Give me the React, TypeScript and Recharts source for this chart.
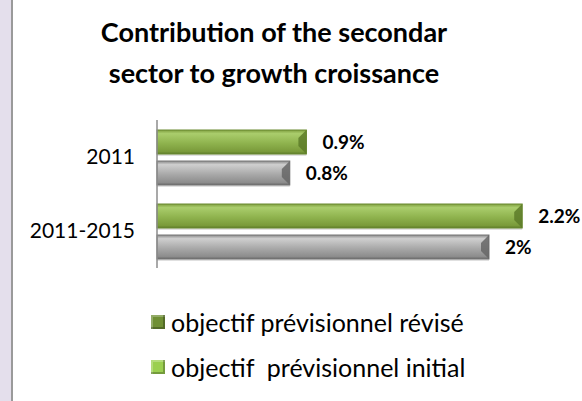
import React from "react";
import { Bar, BarChart, LabelList, XAxis, YAxis } from "recharts";

const categories = ["2011", "2011-2015"];
const revisedValues = [0.9, 2.2];
const initialValues = [0.8, 2.0];
const seriesNames = ["objectif prévisionnel révisé", "objectif  prévisionnel initial"];
const titleLines = ["Contribution of the secondar", "sector to growth croissance"];

const chartData = categories.map((cat, i) => ({
  cat,
  revised: revisedValues[i],
  initial: initialValues[i],
}));

const FONT = "Lato, 'Open Sans', sans-serif";

// bar with a vertical gradient and a darker bevel at the right end
const BevelBar = (props: any) => {
  const { x, y, width, height, gradId, edge, bevel } = props;
  if (!width || width <= 0) return null;
  const b = Math.min(8, height / 3);
  return (
    <g>
      <rect x={x} y={y + 2} width={width} height={height} fill="#000" opacity={0.12} />
      <rect x={x} y={y} width={width} height={height} fill={`url(#${gradId})`} stroke={edge} strokeWidth={1} />
      <polygon
        points={`${x + width - b},${y + b} ${x + width},${y} ${x + width},${y + height} ${x + width - b},${y + height - b}`}
        fill={bevel}
        opacity={0.85}
      />
    </g>
  );
};

const labelFormat = (v: any) => `${v}%`;

export default function App() {
  return (
    <div
      style={{
        position: "absolute",
        left: 0,
        top: 0,
        width: 582,
        height: 401,
        background: "#fff",
        overflow: "hidden",
        fontFamily: FONT,
      }}
    >
      <div style={{ position: "absolute", left: 0, top: 0, width: 11, height: 401, background: "#e4dfec" }} />
      <div style={{ position: "absolute", left: 11, top: 0, width: 2, height: 401, background: "#9a9a9a" }} />

      <div
        style={{
          position: "absolute",
          left: 14,
          width: 520,
          top: 11,
          textAlign: "center",
          fontWeight: 700,
          fontSize: 27,
          lineHeight: "41px",
          color: "#000",
        }}
      >
        {titleLines.map((l) => (
          <div key={l}>{l}</div>
        ))}
      </div>

      <div style={{ position: "absolute", left: 0, top: 0 }}>
        <BarChart
          width={582}
          height={401}
          data={chartData}
          layout="vertical"
          margin={{ top: 120, right: 10, bottom: 133, left: 20 }}
          barSize={24}
          barGap={7}
        >
          <defs>
            <linearGradient id="gradGreen" x1="0" y1="0" x2="0" y2="1">
              <stop offset="0%" stopColor="#7f9f3f" />
              <stop offset="15%" stopColor="#aacd6c" />
              <stop offset="55%" stopColor="#8fb34e" />
              <stop offset="90%" stopColor="#7a9a3a" />
              <stop offset="100%" stopColor="#5c7a28" />
            </linearGradient>
            <linearGradient id="gradGray" x1="0" y1="0" x2="0" y2="1">
              <stop offset="0%" stopColor="#8a8a8a" />
              <stop offset="15%" stopColor="#cfcfcf" />
              <stop offset="55%" stopColor="#a9a9a9" />
              <stop offset="90%" stopColor="#8c8c8c" />
              <stop offset="100%" stopColor="#666666" />
            </linearGradient>
          </defs>
          <XAxis type="number" domain={[0, 2.5]} hide />
          <YAxis
            type="category"
            dataKey="cat"
            width={137}
            axisLine={{ stroke: "#8c8c8c", strokeWidth: 1.5 }}
            tickLine={false}
            tickMargin={16}
            tick={{ fill: "#000", fontSize: 21, fontFamily: FONT }}
          />
          <Bar
            dataKey="revised"
            name={seriesNames[0]}
            isAnimationActive={false}
            shape={(p: any) => <BevelBar {...p} gradId="gradGreen" edge="#6a8a30" bevel="#5d7b29" />}
          >
            <LabelList
              dataKey="revised"
              position="right"
              offset={16}
              formatter={labelFormat}
              style={{ fill: "#000", fontWeight: 700, fontSize: 19, fontFamily: FONT }}
            />
          </Bar>
          <Bar
            dataKey="initial"
            name={seriesNames[1]}
            isAnimationActive={false}
            shape={(p: any) => <BevelBar {...p} gradId="gradGray" edge="#777" bevel="#666" />}
          >
            <LabelList
              dataKey="initial"
              position="right"
              offset={16}
              formatter={labelFormat}
              style={{ fill: "#000", fontWeight: 700, fontSize: 19, fontFamily: FONT }}
            />
          </Bar>
        </BarChart>
      </div>

      <div style={{ position: "absolute", left: 151, top: 299 }}>
        {seriesNames.map((name, i) => (
          <div key={name} style={{ display: "flex", alignItems: "center", height: 45 }}>
            <span
              style={{
                display: "inline-block",
                width: 14,
                height: 14,
                marginRight: 6,
                background: i === 0 ? "#6f8f34" : "#9bcf50",
                boxShadow: "inset -2px -2px 0 rgba(0,0,0,0.25), inset 2px 2px 0 rgba(255,255,255,0.25)",
              }}
            />
            <span style={{ fontSize: 25, color: "#000", whiteSpace: "pre" }}>{name}</span>
          </div>
        ))}
      </div>
    </div>
  );
}
